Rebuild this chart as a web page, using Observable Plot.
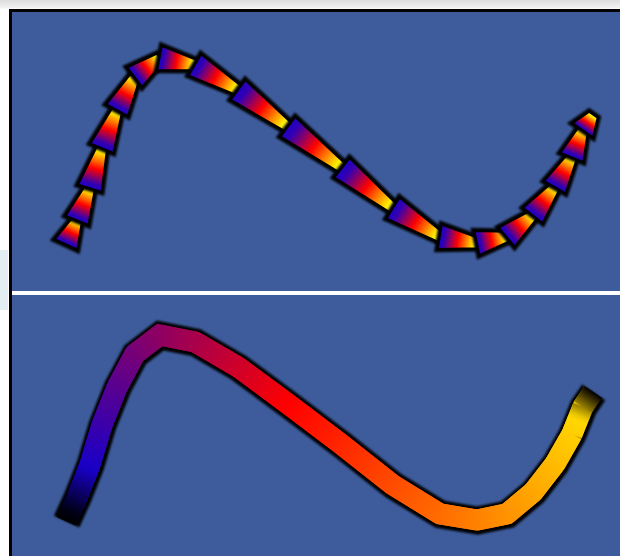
<!DOCTYPE html>
<html>
<head>
<meta charset="utf-8">
<script src="https://cdn.jsdelivr.net/npm/d3@7"></script>
<script src="https://cdn.jsdelivr.net/npm/@observablehq/plot@0.6"></script>
<style>
html, body { margin:0; padding:0; width:620px; height:556px; overflow:hidden; }
body { background: linear-gradient(to bottom, #dcdcdc 0px, #f3f3f3 8px, #ffffff 9px); position:relative; }
#side { position:absolute; left:0; top:250px; width:8px; height:60px; background:#e3eef3; }
#frame { position:absolute; left:9px; top:9px; width:608px; height:544px; border-left:3px solid #000; border-top:3px solid #000; background:#fff; overflow:hidden; }
#sep { height:4px; background:#fff; }
svg { display:block; }
#bottom g[aria-label="line"] { filter: blur(0.8px); }
</style>
</head>
<body>
<div id="side"></div>
<div id="frame"><div id="top"></div><div id="sep"></div><div id="bottom"></div></div>
<script>
// Curve vertices (data units, 0–10 in both directions)
const xs = [0.89, 1.07, 1.28, 1.48, 1.73, 2.02, 2.43, 3.01, 3.72, 4.54, 5.43, 6.27, 7.04, 7.65, 8.14, 8.57, 8.93, 9.21, 9.39, 9.56];
const ys = [1.68, 2.54, 3.69, 5.13, 6.49, 7.67, 8.35, 8.10, 7.20, 5.88, 4.41, 2.97, 1.94, 1.72, 1.94, 2.72, 3.73, 4.80, 5.77, 6.31];
const points = xs.map((x, i) => ({x, y: ys[i]}));

const BG = "#3e5c9c";
// per-segment gradient (wide end -> narrow end)
const segStopOffsets = [0, 0.12, 0.48, 0.9, 1];
const segStopColors = ["#2000c0", "#3200b4", "#ff0000", "#ffee00", "#ffff30"];
// gradient along the whole path (by arc length)
const rampDomain = [0, 0.015, 0.075, 0.47, 0.96, 0.99, 1];
const rampColors = ["#000000", "#000018", "#1800c8", "#ff0000", "#ffd800", "#403400", "#000000"];
const ramp = d3.scaleLinear().domain(rampDomain).range(rampColors).interpolate(d3.interpolateRgb).clamp(true);

function taperedSegments(index, scales) {
  const g = d3.create("svg:g");
  const defs = g.append("defs");
  defs.append("filter").attr("id", "soft").attr("x", "-30%").attr("y", "-30%").attr("width", "160%").attr("height", "160%")
    .append("feGaussianBlur").attr("stdDeviation", 0.9);
  const px = xs.map(v => scales.x(v)), py = ys.map(v => scales.y(v));
  for (let i = 0; i < px.length - 1; i++) {
    const ax = px[i], ay = py[i], bx = px[i + 1], by = py[i + 1];
    const len = Math.hypot(bx - ax, by - ay);
    const nx = -(by - ay) / len, ny = (bx - ax) / len;
    const w0 = 12, w1 = 5;
    const id = "taper" + i;
    const grad = defs.append("linearGradient").attr("id", id).attr("gradientUnits", "userSpaceOnUse")
      .attr("x1", ax).attr("y1", ay).attr("x2", bx).attr("y2", by);
    segStopOffsets.forEach((o, k) => grad.append("stop").attr("offset", o).attr("stop-color", segStopColors[k]));
    const pts = [[ax + nx * w0, ay + ny * w0], [bx + nx * w1, by + ny * w1], [bx - nx * w1, by - ny * w1], [ax - nx * w0, ay - ny * w0]];
    const s = pts.map(p => p.join(",")).join(" ");
    g.append("polygon").attr("points", s).attr("fill", "#000").attr("stroke", "#000")
      .attr("stroke-width", 7).attr("stroke-linejoin", "miter").attr("filter", "url(#soft)");
    g.append("polygon").attr("points", s).attr("fill", `url(#${id})`).attr("stroke", "#000")
      .attr("stroke-width", 1.5).attr("stroke-linejoin", "miter");
  }
  return g.node();
}

function gradientLine(index, scales) {
  const g = d3.create("svg:g");
  const defs = g.append("defs");
  const px = xs.map(v => scales.x(v)), py = ys.map(v => scales.y(v));
  const n = px.length;
  const cum = [0];
  for (let i = 1; i < n; i++) cum.push(cum[i - 1] + Math.hypot(px[i] - px[i - 1], py[i] - py[i - 1]));
  const t = cum.map(c => c / cum[n - 1]);
  const W = 21;
  const base = defs.append("linearGradient").attr("id", "lineBase").attr("gradientUnits", "userSpaceOnUse")
    .attr("x1", px[0]).attr("y1", 0).attr("x2", px[n - 1]).attr("y2", 0);
  px.forEach((x, i) => base.append("stop").attr("offset", (x - px[0]) / (px[n - 1] - px[0])).attr("stop-color", ramp(t[i])));
  g.append("path").attr("d", d3.line()(px.map((x, i) => [x, py[i]])))
    .attr("fill", "none").attr("stroke", "url(#lineBase)").attr("stroke-width", W)
    .attr("stroke-linejoin", "miter").attr("stroke-miterlimit", 10);
  for (let i = 0; i < n - 1; i++) {
    const id = "seg" + i;
    const grad = defs.append("linearGradient").attr("id", id).attr("gradientUnits", "userSpaceOnUse")
      .attr("x1", px[i]).attr("y1", py[i]).attr("x2", px[i + 1]).attr("y2", py[i + 1]);
    for (let k = 0; k <= 6; k++) {
      const f = k / 6;
      grad.append("stop").attr("offset", f).attr("stop-color", ramp(t[i] + f * (t[i + 1] - t[i])));
    }
    g.append("path").attr("d", `M${px[i]},${py[i]}L${px[i + 1]},${py[i + 1]}`)
      .attr("fill", "none").attr("stroke", `url(#${id})`).attr("stroke-width", W).attr("stroke-linecap", "butt");
  }
  return g.node();
}

const topPlot = Plot.plot({
  width: 608, height: 279, margin: 0,
  x: {domain: [0, 10], axis: null},
  y: {domain: [0, 10], range: [279, 0], axis: null},
  style: {background: BG, display: "block"},
  marks: [
    Plot.line(points, {x: "x", y: "y", stroke: "none"}),
    taperedSegments
  ]
});

const bottomPlot = Plot.plot({
  width: 608, height: 261, margin: 0,
  x: {domain: [0, 10], axis: null},
  y: {domain: [0, 10], range: [273, -6], axis: null},
  style: {background: BG, display: "block"},
  marks: [
    Plot.line(points, {x: "x", y: "y", stroke: "#000", strokeWidth: 28, strokeLinejoin: "miter", strokeMiterlimit: 10, strokeLinecap: "butt"}),
    gradientLine
  ]
});

document.getElementById("top").append(topPlot);
document.getElementById("bottom").append(bottomPlot);
</script>
</body>
</html>
